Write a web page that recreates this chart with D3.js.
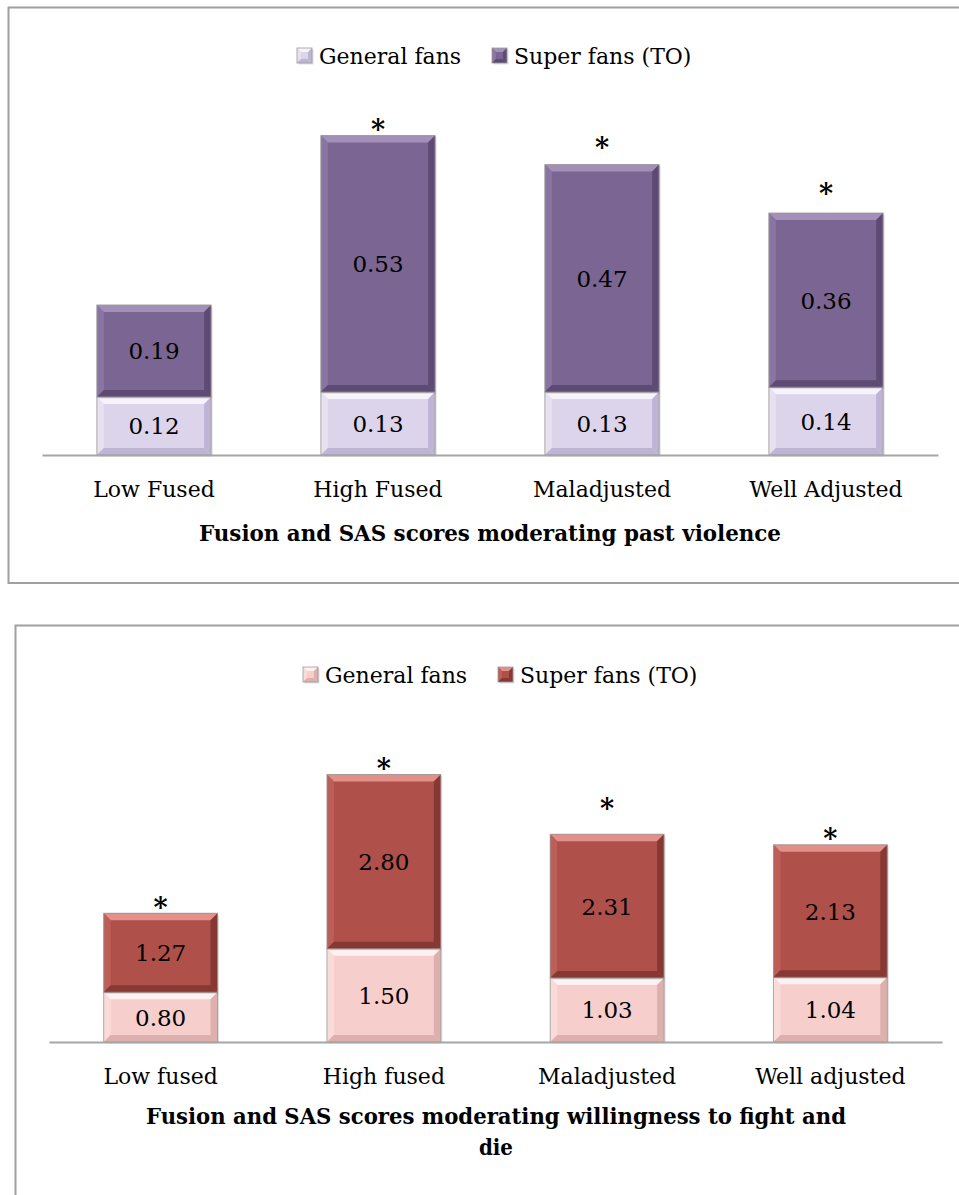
<!DOCTYPE html>
<html>
<head>
<meta charset="utf-8">
<script src="https://cdn.jsdelivr.net/npm/d3@7"></script>
<style>
  html, body { margin: 0; padding: 0; background: #fff; }
  svg { display: block; }
</style>
</head>
<body>
<svg id="chart" width="959" height="1195"></svg>
<script>
// ---------- data ----------
const series = ["General fans", "Super fans (TO)"];

const categories1 = ["Low Fused", "High Fused", "Maladjusted", "Well Adjusted"];
const general1 = [0.12, 0.13, 0.13, 0.14];
const super1 = [0.19, 0.53, 0.47, 0.36];
const star1 = [null, 0.684, 0.647, 0.552];   // asterisk annotation heights (value units)
const title1 = ["Fusion and SAS scores moderating past violence"];

const categories2 = ["Low fused", "High fused", "Maladjusted", "Well adjusted"];
const general2 = [0.80, 1.50, 1.03, 1.04];
const super2 = [1.27, 2.80, 2.31, 2.13];
const star2 = [2.25, 4.49, 3.84, 3.36];
const title2 = ["Fusion and SAS scores moderating willingness to fight and", "die"];

// ---------- styles ----------
const palette1 = {
  general: { face: "#dcd4ea", light: "#f6f3fa", mid: "#e6e0f0", dark: "#bfb4d3" },
  super:   { face: "#7b6592", light: "#a290b8", mid: "#8a75a2", dark: "#5d4b73" }
};
const palette2 = {
  general: { face: "#f6cfcd", light: "#fdf2f1", mid: "#f9dcda", dark: "#ddb0ae" },
  super:   { face: "#b0504a", light: "#e3908a", mid: "#bd5f59", dark: "#873833" }
};

const FONT = "'DejaVu Serif', serif";
const svg = d3.select("#chart");

function bevelRect(g, x, y, w, h, pal, b) {
  b = Math.min(b, h / 2, w / 2);
  g.append("rect").attr("x", x + 1.5).attr("y", y + 1.5).attr("width", w).attr("height", h)
    .attr("fill", "#000").attr("opacity", 0.12);
  g.append("rect").attr("x", x).attr("y", y).attr("width", w).attr("height", h)
    .attr("fill", pal.face);
  const poly = (pts, fill) => g.append("polygon")
    .attr("points", pts.map(p => p.join(",")).join(" ")).attr("fill", fill);
  poly([[x, y], [x + w, y], [x + w - b, y + b], [x + b, y + b]], pal.light);
  poly([[x, y], [x + b, y + b], [x + b, y + h - b], [x, y + h]], pal.mid);
  poly([[x + w, y], [x + w, y + h], [x + w - b, y + h - b], [x + w - b, y + b]], pal.dark);
  poly([[x, y + h], [x + b, y + h - b], [x + w - b, y + h - b], [x + w, y + h]], pal.dark);
  g.append("rect").attr("x", x).attr("y", y).attr("width", w).attr("height", h)
    .attr("fill", "none").attr("stroke", "#9a9a9a").attr("stroke-width", 1).attr("opacity", 0.8);
}

function drawChart(cfg) {
  const { cats, gen, sup, stars, titleLines, pal, L } = cfg;
  const g = svg.append("g");

  g.append("rect").attr("x", L.frame[0]).attr("y", L.frame[1])
    .attr("width", L.frame[2]).attr("height", L.frame[3])
    .attr("fill", "none").attr("stroke", "#a0a0a0").attr("stroke-width", 2);

  const x = d3.scaleBand().domain(cats).range(L.xRange).paddingInner(0.49).paddingOuter(0.245);
  const y = d3.scaleLinear().domain(L.yDomain).range([L.axisY, L.axisY - L.plotH]);

  const rows = cats.map((c, i) => ({ c, g: gen[i], s: sup[i], star: stars[i] }));

  rows.forEach(r => {
    const bx = x(r.c), bw = x.bandwidth();
    const y0 = y(0), y1 = y(r.g), y2 = y(r.g + r.s);
    bevelRect(g, bx, y1, bw, y0 - y1, pal.general, 7);
    bevelRect(g, bx, y2, bw, y1 - y2, pal.super, 7);
    g.append("text").attr("x", bx + bw / 2).attr("y", (y0 + y1) / 2).attr("dy", "0.37em")
      .attr("text-anchor", "middle").attr("font-family", FONT).attr("font-size", 23)
      .attr("fill", "#000").text(d3.format(".2f")(r.g));
    g.append("text").attr("x", bx + bw / 2).attr("y", (y1 + y2) / 2).attr("dy", "0.37em")
      .attr("text-anchor", "middle").attr("font-family", FONT).attr("font-size", 23)
      .attr("fill", "#000").text(d3.format(".2f")(r.s));
    if (r.star != null) {
      g.append("text").attr("x", bx + bw / 2).attr("y", y(r.star) + 15)
        .attr("text-anchor", "middle").attr("font-family", FONT).attr("font-size", 27)
        .attr("font-weight", "bold").attr("fill", "#000").text("*");
    }
  });

  const ax = g.append("g").attr("transform", `translate(0,${L.axisY})`)
    .call(d3.axisBottom(x).tickSize(0).tickSizeOuter(0));
  ax.select(".domain").attr("stroke", "#a6a6a6").attr("stroke-width", 2);
  ax.selectAll("text").attr("y", 42).attr("dy", 0)
    .attr("font-family", FONT).attr("font-size", 22).attr("fill", "#000");

  series.forEach((s, i) => {
    const lx = L.legendX[i];
    const p = i === 0 ? pal.general : pal.super;
    bevelRect(g, lx, L.legendY - 7.5, 15, 15, p, 4);
    g.append("text").attr("x", lx + 22).attr("y", L.legendY + 8)
      .attr("font-family", FONT).attr("font-size", 22).attr("fill", "#000").text(s);
  });

  titleLines.forEach((t, i) => {
    const tt = g.append("text").attr("x", L.titleX).attr("y", L.titleY[i])
      .attr("text-anchor", "middle").attr("font-family", FONT).attr("font-weight", "bold")
      .attr("font-stretch", "condensed")
      .attr("font-size", 22).attr("fill", "#000").text(t);
    if (L.titleLen[i]) tt.attr("textLength", L.titleLen[i]).attr("lengthAdjust", "spacingAndGlyphs");
  });
}

drawChart({
  cats: categories1, gen: general1, sup: super1, stars: star1, titleLines: title1, pal: palette1,
  L: { frame: [8.5, 7.5, 1000, 575.5], xRange: [42, 938], yDomain: [0, 0.7], axisY: 455, plotH: 0.7 * 484,
       legendX: [297, 492], legendY: 55.5, titleX: 490, titleY: [541], titleLen: [582] }
});
drawChart({
  cats: categories2, gen: general2, sup: super2, stars: star2, titleLines: title2, pal: palette2,
  L: { frame: [15.5, 625.5, 1000, 700], xRange: [49, 942], yDomain: [0, 5], axisY: 1042, plotH: 5 * 62.2,
       legendX: [303, 498], legendY: 674.5, titleX: 496, titleY: [1124, 1155], titleLen: [700, null] }
});
</script>
</body>
</html>
